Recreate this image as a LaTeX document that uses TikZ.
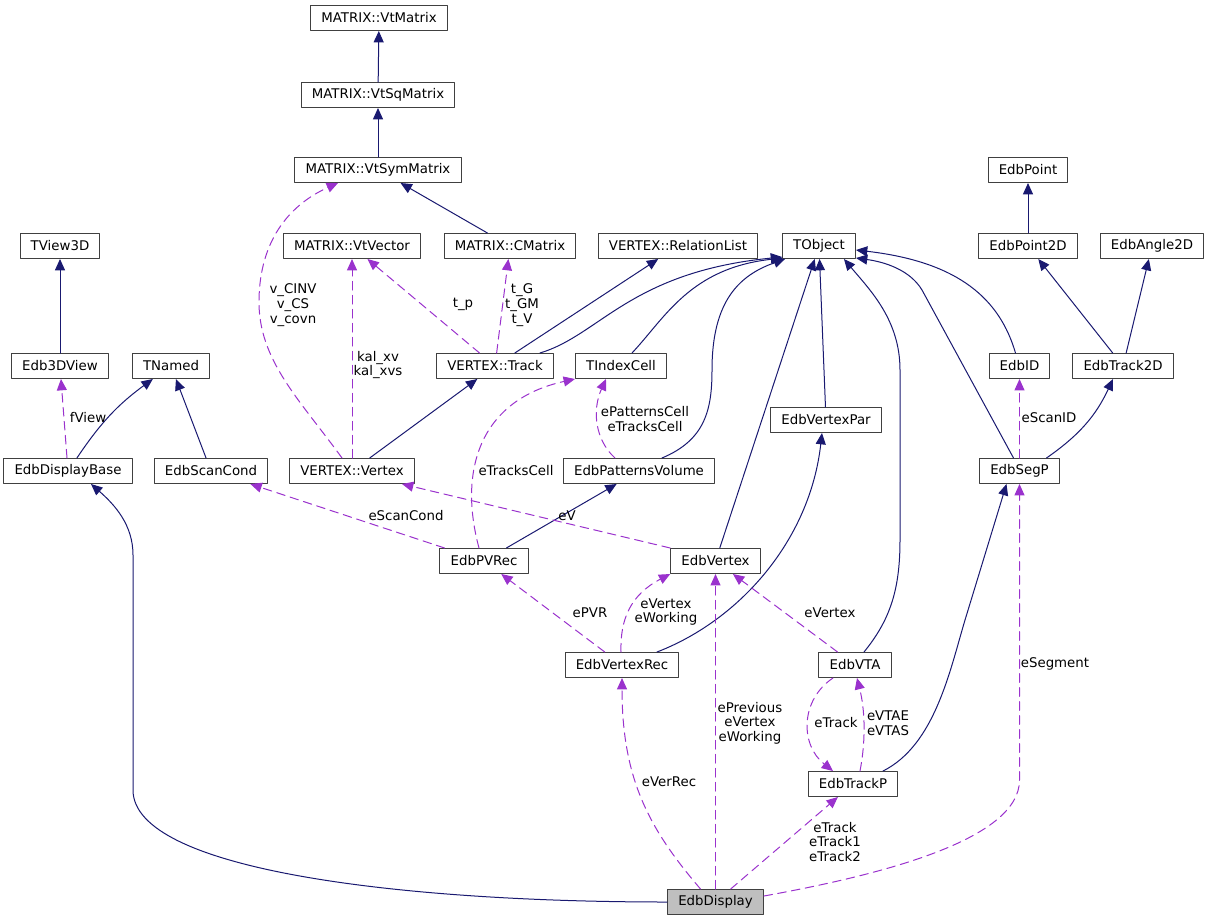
\documentclass[tikz,border=0pt]{standalone}
\usepackage{fontspec}
\setmainfont{DejaVu Sans}
\usetikzlibrary{arrows.meta,calc}
\definecolor{inhblue}{HTML}{191970}
\definecolor{usepurple}{HTML}{9A32CD}
\definecolor{boxgray}{HTML}{404040}
\begin{document}
\begin{tikzpicture}[x=0.75pt, y=-0.75pt, line cap=round, line join=round,
	font=\fontsize{10}{11}\selectfont,
	cls/.style={draw=boxgray, line width=0.75pt, fill=white, minimum height=18.75pt, inner xsep=8pt, inner ysep=0pt},
	inh/.style={draw=inhblue, line width=0.75pt, -{Triangle[length=8.5pt,width=7.5pt]}},
	member/.style={draw=usepurple, line width=0.75pt, dash pattern=on 6.5pt off 4pt, -{Triangle[length=8.5pt,width=7.5pt,fill=usepurple]}},
	lab/.style={align=center, inner sep=0pt}]
	\useasboundingbox (0,0) rectangle (1209,921);
	% classes
	\node[cls] (VtMatrix) at (379,18) {MATRIX::VtMatrix};
	\node[cls] (VtSqMatrix) at (378,95) {MATRIX::VtSqMatrix};
	\node[cls] (VtSymMatrix) at (378,170) {MATRIX::VtSymMatrix};
	\node[cls] (VtVector) at (352,246) {MATRIX::VtVector};
	\node[cls] (CMatrix) at (510,246) {MATRIX::CMatrix};
	\node[cls] (RelationList) at (678,246) {VERTEX::RelationList};
	\node[cls] (TObject) at (819,246) {TObject};
	\node[cls] (TView3D) at (60,246) {TView3D};
	\node[cls] (Edb3DView) at (60,366) {Edb3DView};
	\node[cls] (TNamed) at (171,366) {TNamed};
	\node[cls] (DisplayBase) at (68,471) {EdbDisplayBase};
	\node[cls] (ScanCond) at (211,471) {EdbScanCond};
	\node[cls] (VVertex) at (352,471) {VERTEX::Vertex};
	\node[cls] (VTrack) at (495,366) {VERTEX::Track};
	\node[cls] (IndexCell) at (621,366) {TIndexCell};
	\node[cls] (PatternsVolume) at (639,471) {EdbPatternsVolume};
	\node[cls] (VertexPar) at (826,420) {EdbVertexPar};
	\node[cls] (Point) at (1028,170) {EdbPoint};
	\node[cls] (Point2D) at (1028,246) {EdbPoint2D};
	\node[cls] (Angle2D) at (1152,246) {EdbAngle2D};
	\node[cls] (EdbIDn) at (1019.5,366) {EdbID};
	\node[cls] (Track2D) at (1123,366) {EdbTrack2D};
	\node[cls] (SegP) at (1019.5,471) {EdbSegP};
	\node[cls] (PVRec) at (484,561) {EdbPVRec};
	\node[cls] (Vertex) at (715.5,561) {EdbVertex};
	\node[cls] (VertexRec) at (622,665) {EdbVertexRec};
	\node[cls] (VTA) at (855,665) {EdbVTA};
	\node[cls] (TrackP) at (853,784) {EdbTrackP};
	\node[cls, fill=black!25] (Display) at (715.5,902) {EdbDisplay};
	% inheritance
	\draw[inh] (VtSqMatrix) -- (VtMatrix);
	\draw[inh] (VtSymMatrix) -- (VtSqMatrix);
	\draw[inh] (CMatrix) -- (VtSymMatrix);
	\draw[inh] (Edb3DView) -- (TView3D);
	\draw[inh] (DisplayBase) to[bend left=10] (TNamed);
	\draw[inh] (ScanCond) -- (TNamed);
	\draw[inh] (VTrack) -- (RelationList);
	\draw[inh] ($(VTrack.north)+(45,0)$) .. controls (600,335) and (630,272) .. ($(TObject.south west)+(0,-2)$);
	\draw[inh] (VVertex) -- (VTrack);
	\draw[inh] ($(IndexCell.north)+(11,0)$) .. controls (665,318) and (690,268) .. ($(TObject.south west)+(1,-1)$);
	\draw[inh] ($(PatternsVolume.north)+(23,0)$) .. controls (705,440) and (712,410) .. (712,370)
		.. controls (712,300) and (740,275) .. ($(TObject.south west)+(3,0)$);
	\draw[inh] (PVRec) -- (PatternsVolume);
	\draw[inh] (Vertex) -- (TObject);
	\draw[inh] (VertexPar) -- (TObject);
	\draw[inh] ($(VertexRec.north)+(35,0)$) .. controls (740,620) and (810,540) .. ($(VertexPar.south)+(-4,0)$);
	\draw[inh] ($(VTA.north)+(9,0)$) .. controls (890,620) and (900,590) .. (900,540) -- (900,370)
		.. controls (900,320) and (870,290) .. ($(TObject.south east)+(-12,0)$);
	\draw[inh] ($(EdbIDn.north)+(-4,0)$) .. controls (1000,300) and (960,262) .. ($(TObject.east)+(0,4)$);
	\draw[inh] ($(SegP.north)+(-6,0)$) -- (922,290) .. controls (910,270) and (885,262) .. ($(TObject.south east)+(0,-1)$);
	\draw[inh] (Point2D) -- (Point);
	\draw[inh] (Track2D) -- (Point2D);
	\draw[inh] (Track2D) -- (Angle2D);
	\draw[inh] ($(SegP.north)+(27,0)$) to[bend right=15] ($(Track2D.south)+(-10,0)$);
	\draw[inh] ($(TrackP.north)+(30,0)$) .. controls (935,745) and (950,670) .. (965,620) -- ($(SegP.south)+(-13,0)$);
	\draw[inh] (Display.west) .. controls (400,902) and (133,870) .. (133,790) -- (133,555)
		.. controls (133,525) and (115,505) .. ($(DisplayBase.south)+(23,0)$);
	% members
	\draw[member] ($(VVertex.north)+(-10,0)$) .. controls (300,400) and (258,360) .. (259,300)
		.. controls (260,230) and (300,200) .. ($(VtSymMatrix.south)+(-40,0)$);
	\draw[member] (VVertex) -- (VtVector);
	\draw[member] (VTrack) -- (VtVector);
	\draw[member] (VTrack) -- (CMatrix);
	\draw[member] (DisplayBase) -- (Edb3DView);
	\draw[member] (PVRec) -- (ScanCond);
	\draw[member] ($(PVRec.north)+(-5,0)$) .. controls (458,470) and (480,400) .. (IndexCell.south west);
	\draw[member] ($(PatternsVolume.north)+(-24,0)$) .. controls (595,440) and (592,410) .. ($(IndexCell.south)+(-15,0)$);
	\draw[member] (Vertex.north west) -- ($(VVertex.south)+(50,0)$);
	\draw[member] (VertexRec) -- (PVRec);
	\draw[member] ($(VertexRec.north)+(-1,0)$) .. controls (620,620) and (630,595) .. (Vertex.south west);
	\draw[member] (VTA) -- (Vertex);
	\draw[member] ($(VTA.south)+(-22,0)$) .. controls (800,700) and (800,745) .. ($(TrackP.north)+(-20,0)$);
	\draw[member] ($(TrackP.north)+(7,0)$) .. controls (866,740) and (865,710) .. ($(VTA.south)+(2,0)$);
	\draw[member] (SegP) -- (EdbIDn);
	\draw[member] ($(Display.north)+(-15,0)$) .. controls (650,830) and (622,780) .. (VertexRec.south);
	\draw[member] (Display) -- (Vertex);
	\draw[member] (Display) -- (TrackP);
	\draw[member] ($(Display.east)+(0,-6)$) .. controls (880,875) and (1019.5,840) .. (1019.5,780) -- (SegP.south);
	% labels
	\node[lab] (lCov) at (293,305) {v\_CINV\\v\_CS\\v\_covn};
	\node[lab] (lKal) at (378,365) {kal\_xv\\kal\_xvs};
	\node[lab] (lTp) at (463,304) {t\_p};
	\node[lab] (lTG) at (522,305) {t\_G\\t\_GM\\t\_V};
	\node[lab] (lView) at (88,418) {fView};
	\node[lab] (lScanCond) at (406,516) {eScanCond};
	\node[lab] (lTracksCell) at (516,471) {eTracksCell};
	\node[lab] (lCells) at (645,419) {ePatternsCell\\eTracksCell};
	\node[lab] (lV) at (567,516) {eV};
	\node[lab] (lPVR) at (590,613) {ePVR};
	\node[lab] (lVertexWork) at (666,612) {eVertex\\eWorking};
	\node[lab] (lVertex) at (830,613) {eVertex};
	\node[lab] (lPrev) at (750,723) {ePrevious\\eVertex\\eWorking};
	\node[lab] (lTrack) at (836,723) {eTrack};
	\node[lab] (lVTA) at (888,723) {eVTAE\\eVTAS};
	\node[lab] (lVerRec) at (669,782) {eVerRec};
	\node[lab] (lTracks) at (835,842) {eTrack\\eTrack1\\eTrack2};
	\node[lab] (lSegment) at (1055,664) {eSegment};
	\node[lab] (lScanID) at (1049,418) {eScanID};
\end{tikzpicture}
\end{document}
